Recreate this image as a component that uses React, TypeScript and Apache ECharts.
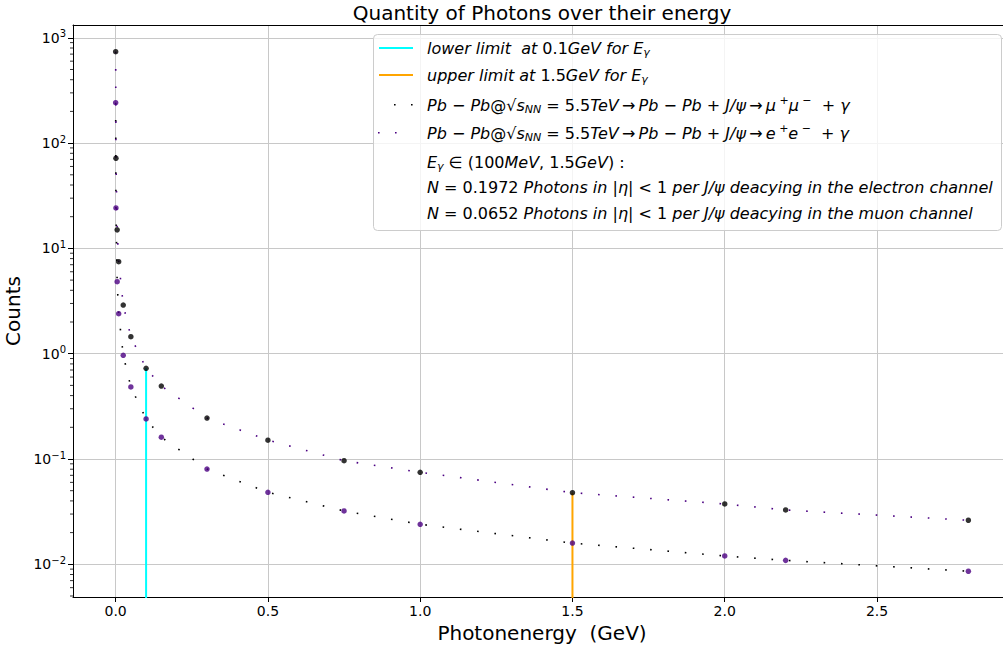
import React, { useEffect, useRef } from "react";
import * as echarts from "echarts";

// ---- data ----
const energies = [0.0001, 0.001, 0.005, 0.01, 0.025, 0.05, 0.1, 0.15, 0.3, 0.5, 0.75, 1.0, 1.5, 2.0, 2.2, 2.8];
const electronCounts = [738, 71.8, 15.0, 7.48, 2.9, 1.45, 0.726, 0.493, 0.245, 0.151, 0.0964, 0.0748, 0.0479, 0.0374, 0.0328, 0.0262];
const muonCounts = [242, 24.2, 4.83, 2.4, 0.966, 0.483, 0.24, 0.161, 0.0803, 0.0483, 0.0321, 0.024, 0.0159, 0.012, 0.0109, 0.00859];
const lowerLimit = [[0.1, 0.0001], [0.1, 0.726]];
const upperLimit = [[1.5, 0.0001], [1.5, 0.0479]];
const xTickLabels = ["0.0", "0.5", "1.0", "1.5", "2.0", "2.5"];
const minorMantissas = [2, 3, 4, 5, 6, 7, 8, 9];
const minorDecades = [-3, -2, -1, 0, 1, 2];

const X_MIN = -0.14;
const X_MAX = 2.94;
const Y_MIN = 0.004892;
const Y_MAX = 1323;

const FONT = "DejaVu Sans";
const PURPLE = "#4b0082";

const supMap: Record<string, string> = { "-": "\u2212" };

function yLabel(v: number): string {
  const e = Math.log10(v);
  const r = Math.round(e);
  if (Math.abs(e - r) > 1e-6) return "";
  const exp = String(r).split("").map((c) => supMap[c] || c).join("");
  return "{b|10}{s|" + exp + "}";
}

const italic = { fontFamily: FONT, fontStyle: "italic", fontSize: 16, lineHeight: 20, fill: "#000" };
const upright = { fontFamily: FONT, fontStyle: "normal", fontSize: 16, lineHeight: 20, fill: "#000" };
const legendRich = {
  i: italic,
  r: upright,
  sub: { fontFamily: FONT, fontStyle: "italic", fontSize: 11, lineHeight: 8, verticalAlign: "bottom", fill: "#000" },
  sup: { fontFamily: FONT, fontStyle: "normal", fontSize: 11, lineHeight: 12, verticalAlign: "top", fill: "#000" },
};

const T = "\u2009";
const legendRows = [
  "{i|lower limit  at }{r|0.1}{i|GeV for E}{sub|γ}",
  "{i|upper limit at }{r|1.5}{i|GeV for E}{sub|γ}",
  "{i|Pb}{r| − }{i|Pb}{r|@√}{i|s}{sub|NN}{r| = 5.5}{i|TeV}{r|" + T + "→" + T + "}{i|Pb}{r| − }{i|Pb}{r| + }{i|J/ψ}{r|" + T + "→" + T + "}{i|μ}{sup| +}{i|μ}{sup| −}{r|  + }{i|γ}",
  "{i|Pb}{r| − }{i|Pb}{r|@√}{i|s}{sub|NN}{r| = 5.5}{i|TeV}{r|" + T + "→" + T + "}{i|Pb}{r| − }{i|Pb}{r| + }{i|J/ψ}{r|" + T + "→" + T + "}{i|e}{sup| +}{i|e}{sup| −}{r|  + }{i|γ}",
  "{i|E}{sub|γ}{r| ∈ (100}{i|MeV}{r|, 1.5}{i|GeV}{r|) :}",
  "{i|N}{r| = 0.1972 }{i|Photons in }{r||}{i|η}{r|| < 1 }{i|per J/ψ deacying in the electron channel}",
  "{i|N}{r| = 0.0652 }{i|Photons in }{r||}{i|η}{r|| < 1 }{i|per J/ψ deacying in the muon channel}",
];
const legendRowY = [48, 75, 105, 133, 162, 187, 213];

export default function App() {
  const ref = useRef<HTMLDivElement>(null);
  useEffect(() => {
    document.body.style.margin = "0";
    const chart = echarts.init(ref.current!, undefined, { renderer: "svg" });

    const minorTicks: number[][] = [];
    minorDecades.forEach((d) =>
      minorMantissas.forEach((m) => {
        const v = m * Math.pow(10, d);
        if (v > Y_MIN && v < Y_MAX) minorTicks.push([X_MIN, v]);
      })
    );

    const legendGraphics: any[] = [
      {
        type: "rect",
        shape: { x: 373.5, y: 34.5, width: 628, height: 196, r: 4 },
        style: { fill: "rgba(255,255,255,0.8)", stroke: "#cccccc", lineWidth: 1 },
        z: 100,
      },
      { type: "line", shape: { x1: 379, y1: 48, x2: 413, y2: 48 }, style: { stroke: "#00ffff", lineWidth: 2 }, z: 101 },
      { type: "line", shape: { x1: 379, y1: 75, x2: 413, y2: 75 }, style: { stroke: "#ffa500", lineWidth: 2 }, z: 101 },
      { type: "rect", shape: { x: 394, y: 104, width: 1.6, height: 1.6 }, style: { fill: "#000" }, z: 101 },
      { type: "rect", shape: { x: 411, y: 104, width: 1.6, height: 1.6 }, style: { fill: "#000" }, z: 101 },
      { type: "rect", shape: { x: 378, y: 132, width: 1.6, height: 1.6 }, style: { fill: PURPLE }, z: 101 },
      { type: "rect", shape: { x: 395, y: 132, width: 1.6, height: 1.6 }, style: { fill: PURPLE }, z: 101 },
    ];
    legendRows.forEach((t, k) => {
      legendGraphics.push({
        type: "text",
        x: 427,
        y: legendRowY[k],
        z: 102,
        style: { text: t, rich: legendRich, align: "left", verticalAlign: "middle", fontFamily: FONT, fontSize: 16, fill: "#000" },
      });
    });

    const option: any = {
      animation: false,
      backgroundColor: "#ffffff",
      textStyle: { fontFamily: FONT },
      grid: { left: 73, right: -8, top: 25, bottom: 52, containLabel: false, outerBoundsMode: "none" },
      graphic: [
        {
          type: "text",
          x: 542,
          y: 13,
          style: { text: "Quantity of Photons over their energy", fontFamily: FONT, fontSize: 20, fill: "#000", align: "center", verticalAlign: "middle" },
        },
        ...legendGraphics,
      ],
      xAxis: [
        {
          type: "value",
          min: X_MIN,
          max: X_MAX,
          splitNumber: 6,
          name: "Photonenergy  (GeV)",
          nameLocation: "middle",
          nameGap: 23,
          nameTextStyle: { fontFamily: FONT, fontSize: 20, color: "#000", verticalAlign: "top" },
          axisLine: { show: true, onZero: false, lineStyle: { color: "#000", width: 1 } },
          axisTick: { show: true, length: 5, lineStyle: { color: "#000", width: 1 } },
          axisLabel: {
            showMinLabel: false,
            showMaxLabel: false,
            margin: 7,
            fontFamily: FONT,
            fontSize: 14,
            color: "#000",
            formatter: (v: number) => {
              const s = v.toFixed(1);
              return xTickLabels.indexOf(s) >= 0 ? s : "";
            },
          },
          splitLine: { show: true, lineStyle: { color: "#c8c8c8", width: 1 } },
        },
        {
          type: "value",
          position: "top",
          min: X_MIN,
          max: X_MAX,
          axisLine: { show: true, onZero: false, lineStyle: { color: "#000", width: 1 } },
          axisTick: { show: false },
          axisLabel: { show: false },
          splitLine: { show: false },
        },
      ],
      yAxis: {
        type: "log",
        logBase: 10,
        min: Y_MIN,
        max: Y_MAX,
        name: "Counts",
        nameLocation: "middle",
        nameGap: 43,
        nameRotate: 90,
        nameTextStyle: { fontFamily: FONT, fontSize: 20, color: "#000" },
        axisLine: { show: true, onZero: false, lineStyle: { color: "#000", width: 1 } },
        axisTick: { show: true, length: 5, lineStyle: { color: "#000", width: 1 } },
        axisLabel: {
          margin: 7,
          showMinLabel: false,
          showMaxLabel: false,
          formatter: yLabel,
          rich: {
            b: { fontFamily: FONT, fontSize: 14, color: "#000", lineHeight: 18 },
            s: { fontFamily: FONT, fontSize: 10, color: "#000", lineHeight: 10, verticalAlign: "top" },
          },
        },
        splitLine: { show: true, lineStyle: { color: "#c8c8c8", width: 1 } },
      },
      series: [
        {
          type: "custom",
          name: "minorTicks",
          silent: true,
          clip: false,
          data: minorTicks,
          encode: { x: 0, y: 1 },
          renderItem: (params: any, api: any) => {
            const p = api.coord([api.value(0), api.value(1)]);
            return {
              type: "line",
              shape: { x1: p[0] - 3, y1: p[1], x2: p[0], y2: p[1] },
              style: { stroke: "#000", lineWidth: 0.8 },
            };
          },
        },
        {
          type: "line",
          name: "lower limit",
          data: lowerLimit,
          showSymbol: false,
          lineStyle: { color: "#00ffff", width: 2 },
          z: 3,
        },
        {
          type: "line",
          name: "upper limit",
          data: upperLimit,
          showSymbol: false,
          lineStyle: { color: "#ffa500", width: 2 },
          z: 3,
        },
        {
          type: "line",
          name: "muon",
          data: energies.map((x, k) => [x, muonCounts[k]]),
          showSymbol: false,
          lineStyle: { color: "#000", width: 1.6, type: [1.6, 15.8], cap: "butt" },
          z: 4,
        },
        {
          type: "line",
          name: "electron",
          data: energies.map((x, k) => [x, electronCounts[k]]),
          showSymbol: false,
          lineStyle: { color: PURPLE, width: 1.6, type: [1.6, 15.8], cap: "butt" },
          z: 4,
        },
        {
          type: "scatter",
          name: "electron points",
          data: energies.map((x, k) => [x, electronCounts[k]]),
          symbol: "circle",
          symbolSize: 5.5,
          itemStyle: { color: "#000" },
          z: 5,
        },
        {
          type: "scatter",
          name: "muon points",
          data: energies.map((x, k) => [x, muonCounts[k]]),
          symbol: "circle",
          symbolSize: 5.5,
          itemStyle: { color: PURPLE },
          z: 5,
        },
      ],
    };
    chart.setOption(option);
    return () => chart.dispose();
  }, []);
  return <div ref={ref} style={{ width: 1003, height: 649 }} />;
}
